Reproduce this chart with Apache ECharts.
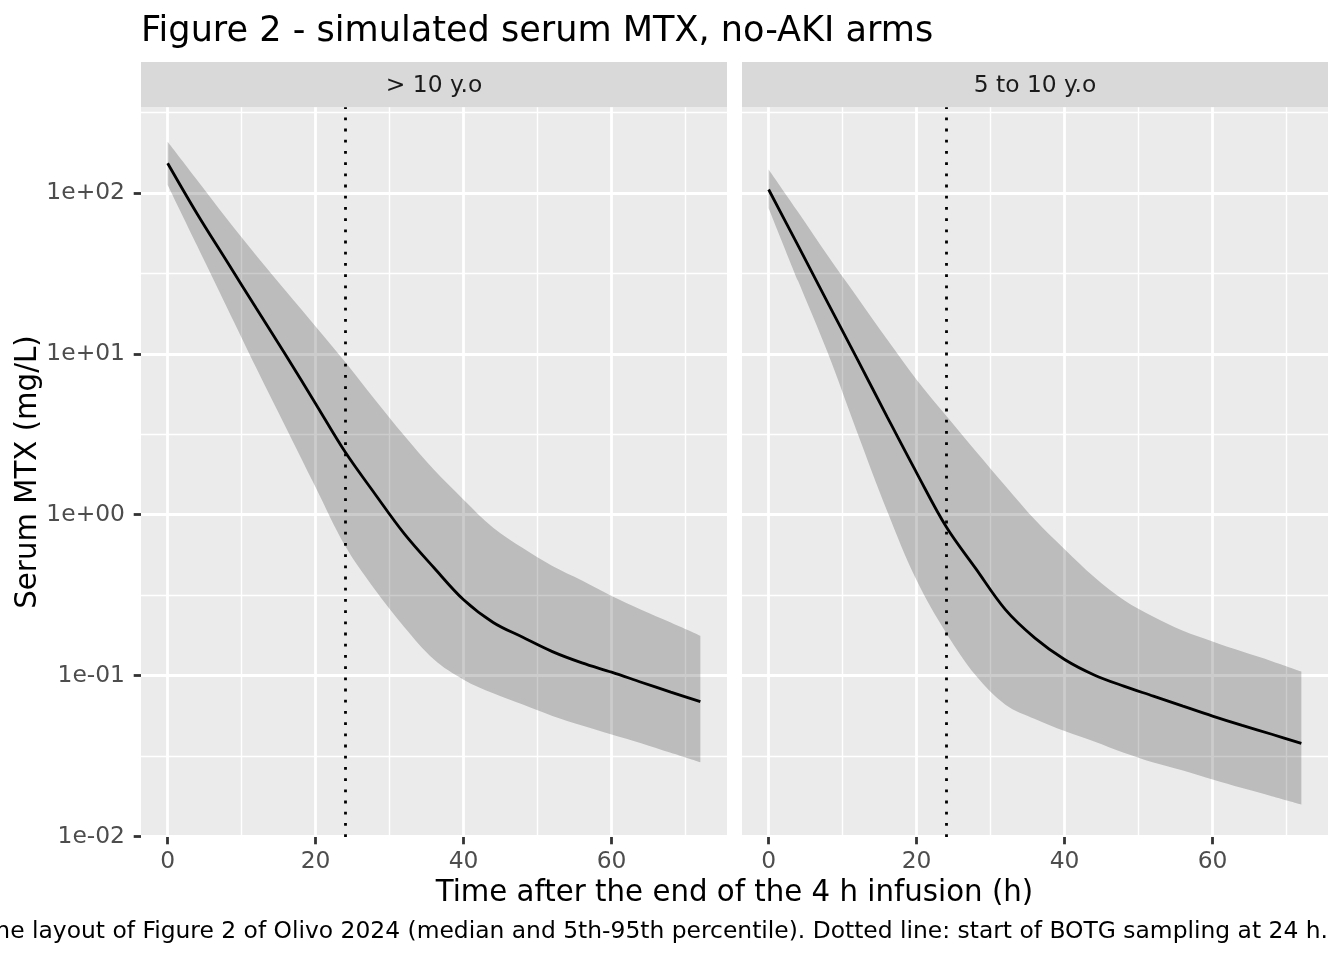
<!DOCTYPE html>
<html><head><meta charset="utf-8">
<script src="https://cdn.jsdelivr.net/npm/echarts@6/dist/echarts.min.js"></script>
<style>html,body{margin:0;padding:0;background:#fff}#c{width:1344px;height:960px}</style>
</head><body><div id="c"></div>
<script>
// ---- data (serum MTX, mg/L) ----
const times = [0,4,8,12,16,20,24,28,32,36,40,44,48,52,56,60,64,68,72];
const panelNames = ['> 10 y.o', '5 to 10 y.o'];
const medianOver10 = [153, 74, 37.6, 19.1, 9.77, 4.9, 2.45, 1.35, 0.76, 0.468, 0.296, 0.214, 0.173, 0.141, 0.120, 0.105, 0.091, 0.079, 0.069];
const upperOver10  = [208, 120, 69, 40.7, 24.5, 14.8, 8.9, 5.2, 3.09, 1.9, 1.24, 0.83, 0.62, 0.48, 0.39, 0.313, 0.257, 0.214, 0.177];
const lowerOver10  = [112, 46.8, 19.5, 8.13, 3.47, 1.48, 0.638, 0.343, 0.20, 0.126, 0.0944, 0.0776, 0.0661, 0.0562, 0.049, 0.043, 0.038, 0.0331, 0.0289];
const median5to10  = [105, 46.8, 20.7, 9.23, 4.07, 1.82, 0.841, 0.462, 0.257, 0.171, 0.126, 0.101, 0.086, 0.0746, 0.0646, 0.056, 0.049, 0.0432, 0.0379];
const upper5to10   = [140, 75.9, 40.7, 22.4, 12.3, 6.9, 4.12, 2.48, 1.51, 0.93, 0.61, 0.41, 0.295, 0.232, 0.19, 0.163, 0.141, 0.123, 0.106];
const lower5to10   = [80.4, 28.2, 10.1, 3.22, 1.06, 0.391, 0.184, 0.10, 0.066, 0.0537, 0.0452, 0.0389, 0.0331, 0.0288, 0.0257, 0.0226, 0.02, 0.0178, 0.0158];
const xTicks = [0, 20, 40, 60];
const xMinor = [10, 30, 50, 70];
const yTickExp = [-2, -1, 0, 1, 2];
const yMinorExp = [-1.5, -0.5, 0.5, 1.5, 2.5];
const samplingStart = 24;
const titleText = 'Figure 2 - simulated serum MTX, no-AKI arms';
const xTitle = 'Time after the end of the 4 h infusion (h)';
const yTitle = 'Serum MTX (mg/L)';
const captionText = 'the layout of Figure 2 of Olivo 2024 (median and 5th-95th percentile). Dotted line: start of BOTG sampling at 24 h.';

const FONT = 'DejaVu Sans';
const BASE = 29.25;
const SMOOTH = 0.35;
const panels = [
  {median: medianOver10, upper: upperOver10, lower: lowerOver10},
  {median: median5to10, upper: upper5to10, lower: lower5to10}
];
const L = Math.log10;
const X_MIN = -3.6, X_MAX = 75.6, Y_MIN = -2.003, Y_MAX = 2.532;
const gridLefts = [141, 742];
const gridW = 586, gridTop = 107.3, gridH = 729.7;

function expLabel(v) {
  const e = Math.round(v);
  return '1e' + (e < 0 ? '-' : '+') + String(Math.abs(e)).padStart(2, '0');
}

const grids = gridLefts.map(l => ({left: l, top: gridTop, width: gridW, height: gridH,
  show: true, backgroundColor: '#EBEBEB', borderWidth: 0}));

const xAxes = [], yAxes = [];
[0, 1].forEach(p => {
  xAxes.push({type: 'value', gridIndex: p, position: 'bottom', min: X_MIN, max: X_MAX, z: 2,
    axisLine: {show: false, onZero: false},
    axisTick: {show: true, length: 7.3, customValues: xTicks, lineStyle: {color: '#333333', width: 2.8}},
    axisLabel: {show: true, customValues: xTicks, margin: 13, fontSize: BASE * 0.8, color: '#4D4D4D', fontFamily: FONT},
    splitLine: {show: true, lineStyle: {color: '#FFFFFF', width: 2.8}}
  });
  yAxes.push({type: 'value', gridIndex: p, position: 'left', min: Y_MIN, max: Y_MAX, z: 2,
    axisLine: {show: false, onZero: false},
    axisTick: {show: p === 0, length: 7.3, customValues: yTickExp, lineStyle: {color: '#333333', width: 2.8}},
    axisLabel: {show: p === 0, customValues: yTickExp, margin: 16, fontSize: BASE * 0.8, color: '#4D4D4D', fontFamily: FONT, formatter: expLabel},
    splitLine: {show: true, lineStyle: {color: '#FFFFFF', width: 2.8}}
  });
});
[0, 1].forEach(p => {
  xAxes.push({type: 'value', gridIndex: p, position: 'bottom', min: X_MIN, max: X_MAX, z: 1,
    axisLine: {show: false, onZero: false}, axisTick: {show: false, customValues: xMinor},
    axisLabel: {show: false, customValues: xMinor},
    splitLine: {show: true, lineStyle: {color: '#FFFFFF', width: 1.4}}
  });
  yAxes.push({type: 'value', gridIndex: p, position: 'left', min: Y_MIN, max: Y_MAX, z: 1,
    axisLine: {show: false, onZero: false}, axisTick: {show: false, customValues: yMinorExp},
    axisLabel: {show: false, customValues: yMinorExp},
    splitLine: {show: true, lineStyle: {color: '#FFFFFF', width: 1.4}}
  });
});

// data items are [value, time] so that stacking acts on the value (y) dimension
const series = [];
panels.forEach((d, p) => {
  series.push({type: 'line', name: 'lower' + p, xAxisIndex: p, yAxisIndex: p,
    encode: {x: 1, y: 0},
    stack: 'band' + p, stackStrategy: 'all', symbol: 'none', smooth: SMOOTH, silent: true,
    lineStyle: {width: 0, opacity: 0},
    data: times.map((t, i) => [L(d.lower[i]), t])
  });
  series.push({type: 'line', name: 'band' + p, xAxisIndex: p, yAxisIndex: p,
    encode: {x: 1, y: 0},
    stack: 'band' + p, stackStrategy: 'all', symbol: 'none', smooth: SMOOTH, silent: true,
    lineStyle: {width: 0, opacity: 0},
    areaStyle: {color: '#000000', opacity: 0.2},
    data: times.map((t, i) => [L(d.upper[i]) - L(d.lower[i]), t])
  });
  series.push({type: 'line', name: 'median' + p, xAxisIndex: p, yAxisIndex: p,
    encode: {x: 1, y: 0},
    symbol: 'none', smooth: SMOOTH, silent: true,
    lineStyle: {color: '#000000', width: 2.8},
    data: times.map((t, i) => [L(d.median[i]), t]),
    markLine: {symbol: 'none', silent: true, animation: false, label: {show: false},
      lineStyle: {color: '#000000', width: 2.8, type: [2.8, 8.4], cap: 'butt'},
      data: [{xAxis: samplingStart}]}
  });
});

const graphics = [];
gridLefts.forEach((l, p) => {
  graphics.push({type: 'rect', shape: {x: l, y: 62, width: gridW, height: 45.3}, style: {fill: '#D9D9D9'}, z: 0});
  graphics.push({type: 'text', x: l + gridW / 2, y: 86, style: {text: panelNames[p], fill: '#1A1A1A',
    font: (BASE * 0.8) + 'px "' + FONT + '"', textAlign: 'center', textVerticalAlign: 'middle'}, z: 1});
});
graphics.push({type: 'text', x: 141, y: 32, style: {text: titleText, fill: '#000000',
  font: (BASE * 1.2) + 'px "' + FONT + '"', textAlign: 'left', textVerticalAlign: 'middle'}});
graphics.push({type: 'text', x: 734.5, y: 893, style: {text: xTitle, fill: '#000000',
  font: BASE + 'px "' + FONT + '"', textAlign: 'center', textVerticalAlign: 'middle'}});
graphics.push({type: 'text', x: 28, y: 472, rotation: Math.PI / 2, style: {text: yTitle, fill: '#000000',
  font: BASE + 'px "' + FONT + '"', textAlign: 'center', textVerticalAlign: 'middle'}});
graphics.push({type: 'text', x: 1328, y: 932, style: {text: captionText, fill: '#000000',
  font: (BASE * 0.8) + 'px "' + FONT + '"', textAlign: 'right', textVerticalAlign: 'middle'}});

const chart = echarts.init(document.getElementById('c'), null, {renderer: 'canvas'});
chart.setOption({
  backgroundColor: '#FFFFFF',
  animation: false,
  grid: grids,
  xAxis: xAxes,
  yAxis: yAxes,
  series: series,
  graphic: graphics
});
</script>
</body></html>
